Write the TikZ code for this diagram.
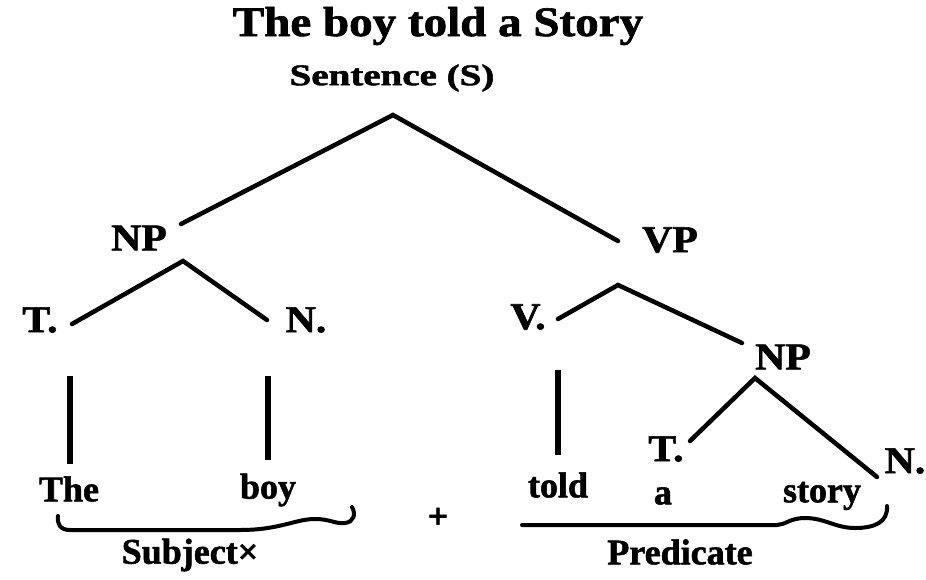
\documentclass[tikz,border=0pt]{standalone}
\usepackage{fontspec}
\setmainfont{Liberation Serif}[BoldFeatures={FakeBold=1.5}]
\begin{document}
\begin{tikzpicture}[x=1pt,y=-1pt,
  lbl/.style={font=\bfseries\fontsize{38}{40}\selectfont, inner sep=0pt, xscale=1.1},
  word/.style={font=\bfseries\fontsize{36}{38}\selectfont, inner sep=0pt},
  ln/.style={line width=4.5pt, line cap=round, line join=miter},
  vln/.style={line width=6pt},
  brc/.style={line width=4pt, line cap=round}]
\useasboundingbox (0,0) rectangle (926,579);
\node[inner sep=0pt, font=\bfseries\fontsize{42}{44}\selectfont, xscale=1.12] (title) at (438,26) {The boy told a Story};
\node[inner sep=0pt, font=\bfseries\fontsize{30}{32}\selectfont, xscale=1.3] (S) at (392,78) {Sentence (S)};
\coordinate (Sa) at (393,115);
\coordinate (Sl) at (181,224);
\coordinate (Sr) at (618,241);
\node[lbl] (NP1) at (139,238) {NP};
\node[lbl] (VP) at (670,240) {VP};
\coordinate (NPa) at (183,261);
\coordinate (NPl) at (72,324);
\coordinate (NPr) at (267,320);
\node[lbl] (T1) at (40,320) {T.};
\node[lbl] (N1) at (306,320) {N.};
\coordinate (VPa) at (618,285);
\coordinate (VPl) at (558,319);
\coordinate (VPr) at (742,343);
\node[lbl] (V) at (528,317) {V.};
\node[lbl] (NP2) at (783,357) {NP};
\coordinate (NP2a) at (755,378);
\coordinate (NP2l) at (690,441);
\coordinate (NP2r) at (877,477);
\node[lbl] (T2) at (666,449) {T.};
\node[lbl] (N2) at (905,461) {N.};
\node[word] (The) at (69,489) {The};
\node[word] (boy) at (268,490) {boy};
\node[word] (told) at (558,485) {told};
\node[word] (a) at (663,496) {a};
\node[word] (story) at (822,496) {story};
\coordinate (v1t) at (70,376);
\coordinate (v1b) at (70,464);
\coordinate (v2t) at (268,376);
\coordinate (v2b) at (268,460);
\coordinate (v3t) at (558,370);
\coordinate (v3b) at (558,455);
\draw[ln] (Sl) -- (Sa) -- (Sr);
\draw[ln] (NPl) -- (NPa) -- (NPr);
\draw[ln] (VPl) -- (VPa) -- (VPr);
\draw[ln] (NP2l) -- (NP2a) -- (NP2r);
\draw[vln] (v1t) -- (v1b);
\draw[vln] (v2t) -- (v2b);
\draw[vln] (v3t) -- (v3b);
% braces
\coordinate (b1s) at (58,516);
\coordinate (b1e) at (352,507);
\draw[brc] (b1s) .. controls (57,524) and (60,530) .. (70,530)
  -- (240,530) .. controls (280,530) and (295,519) .. (315,519)
  .. controls (330,519) and (335,524) .. (345,523)
  .. controls (354,522) and (356,514) .. (b1e);
\node[word] (subj) at (190,555) {Subject×};
\node[word] (plus) at (438,518) {+};
\coordinate (b2s) at (522,525);
\coordinate (b2e) at (887,506);
\draw[brc] (b2s) -- (777,525)
  .. controls (785,525) and (790,518) .. (805,518)
  .. controls (825,518) and (835,528) .. (855,528)
  .. controls (875,528) and (888,522) .. (b2e);
\node[word] (pred) at (680,552) {Predicate};
\end{tikzpicture}
\end{document}
